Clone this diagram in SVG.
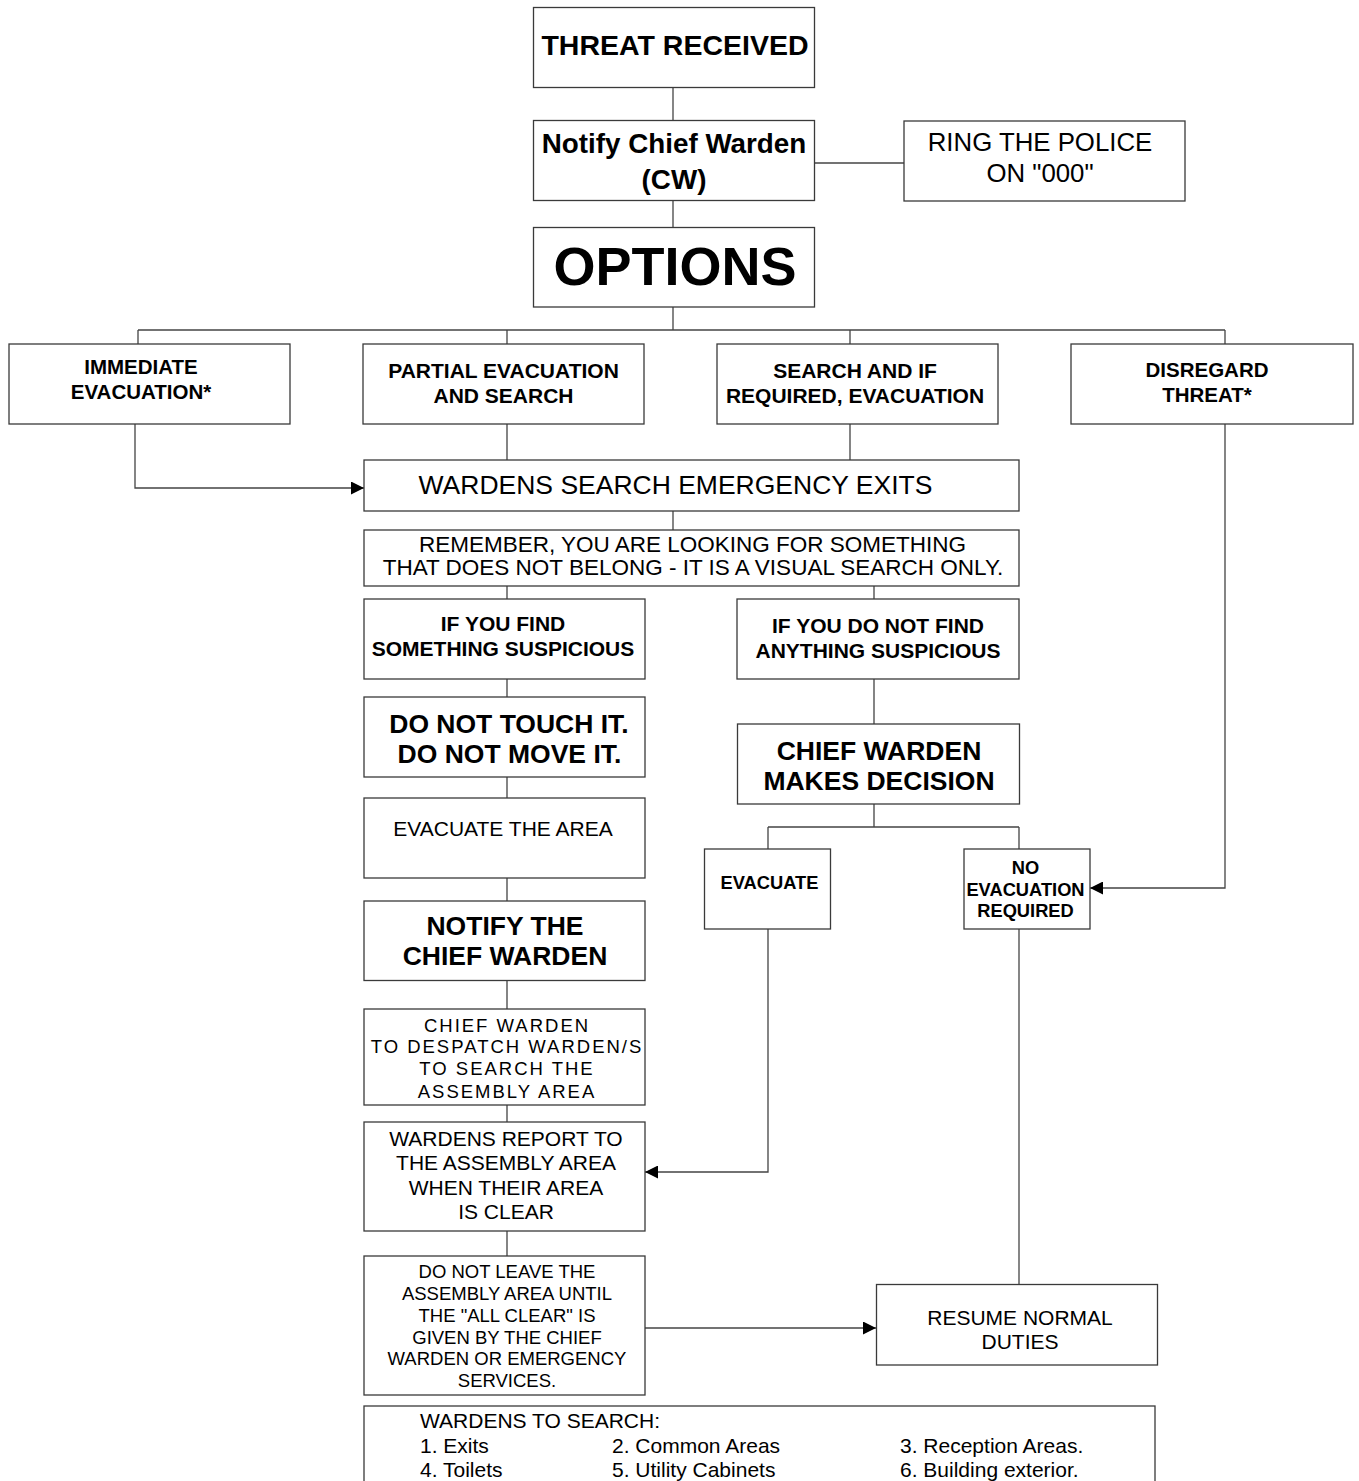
<svg xmlns="http://www.w3.org/2000/svg" width="1359" height="1481" viewBox="0 0 1359 1481">
<defs>
<style>
.box{fill:#fff;stroke:#3a3a3a;stroke-width:1.3}
.ln{fill:none;stroke:#444;stroke-width:1.3}
text{font-family:'Liberation Sans',Arial,sans-serif;fill:#000;text-anchor:middle}
.b{font-weight:bold}
.l{text-anchor:start}
</style>
<marker id="arr" markerUnits="userSpaceOnUse" markerWidth="13" markerHeight="13" refX="13" refY="6.5" orient="auto">
<path d="M0,0 L13,6.5 L0,13 z" fill="#000"/>
</marker>
</defs>
<rect width="1359" height="1481" fill="#fff"/>
<g id="connectors">
<path class="ln" d="M673,87 V121"/>
<path class="ln" d="M673,201 V228"/>
<path class="ln" d="M815,163 H904"/>
<path class="ln" d="M673,307 V330"/>
<path class="ln" d="M138,330 H1225"/>
<path class="ln" d="M138,330 V344 M507,330 V344 M850,330 V344 M1225,330 V344"/>
<path class="ln" d="M507,424 V460 M850,424 V460"/>
<path class="ln" d="M673,511 V530"/>
<path class="ln" d="M507,586 V599 M874,586 V599"/>
<path class="ln" d="M507,679 V697 M507,777 V798 M507,878 V901 M507,980 V1009 M507,1105 V1122 M507,1231 V1256"/>
<path class="ln" d="M874,679 V724 M874,804 V827 M768,827 H1019 M768,827 V849 M1019,827 V849"/>
<path class="ln" d="M1019,929 V1284"/>
<path class="ln" d="M135,424 V488 H364" marker-end="url(#arr)"/>
<path class="ln" d="M768,929 V1172 H645" marker-end="url(#arr)"/>
<path class="ln" d="M1225,424 V888 H1090" marker-end="url(#arr)"/>
<path class="ln" d="M645,1328 H876" marker-end="url(#arr)"/>
</g>
<g id="threat"><rect class="box" x="533.5" y="7.5" width="281" height="80"/><text class="b" x="675" y="55" font-size="28.5">THREAT RECEIVED</text></g>
<g id="notify"><rect class="box" x="533.5" y="120.5" width="281" height="80"/><text class="b" x="674" y="153" font-size="27.8">Notify Chief Warden</text><text class="b" x="674" y="189" font-size="27.8">(CW)</text></g>
<g id="ring"><rect class="box" x="904" y="121" width="281" height="80"/><text x="1040" y="151" font-size="25.8">RING THE POLICE</text><text x="1040" y="182" font-size="25.8">ON "000"</text></g>
<g id="options"><rect class="box" x="533.5" y="227.5" width="281" height="79.5"/><text class="b" x="675" y="285" font-size="54">OPTIONS</text></g>
<g id="immediate"><rect class="box" x="9" y="344" width="281" height="80"/><text class="b" x="141" y="373.5" font-size="20.5">IMMEDIATE</text><text class="b" x="141" y="398.5" font-size="20.5">EVACUATION*</text></g>
<g id="partial"><rect class="box" x="363" y="344" width="281" height="80"/><text class="b" x="503.5" y="377.5" font-size="21">PARTIAL EVACUATION</text><text class="b" x="503.5" y="402.5" font-size="21">AND SEARCH</text></g>
<g id="searchif"><rect class="box" x="717" y="344" width="281" height="80"/><text class="b" x="855" y="378" font-size="21">SEARCH AND IF</text><text class="b" x="855" y="403" font-size="21">REQUIRED, EVACUATION</text></g>
<g id="disregard"><rect class="box" x="1071" y="344" width="282" height="80"/><text class="b" x="1207" y="376.5" font-size="20.5">DISREGARD</text><text class="b" x="1207" y="401.5" font-size="20.5">THREAT*</text></g>
<g id="wsearch"><rect class="box" x="364" y="460" width="655" height="51"/><text x="675.5" y="494" font-size="26.5">WARDENS SEARCH EMERGENCY EXITS</text></g>
<g id="remember"><rect class="box" x="364" y="530" width="655" height="56"/><text x="692.5" y="552" font-size="22.5">REMEMBER, YOU ARE LOOKING FOR SOMETHING</text><text x="693" y="575" font-size="22.5">THAT DOES NOT BELONG - IT IS A VISUAL SEARCH ONLY.</text></g>
<g id="find"><rect class="box" x="364" y="599" width="281" height="80"/><text class="b" x="503" y="631" font-size="21">IF YOU FIND</text><text class="b" x="503" y="656" font-size="21">SOMETHING SUSPICIOUS</text></g>
<g id="donotfind"><rect class="box" x="737" y="599" width="282" height="80"/><text class="b" x="878" y="633" font-size="21">IF YOU DO NOT FIND</text><text class="b" x="878" y="658" font-size="21">ANYTHING SUSPICIOUS</text></g>
<g id="donottouch"><rect class="box" x="364" y="697" width="281" height="80"/><text class="b" x="509" y="733" font-size="26.5">DO NOT TOUCH IT.</text><text class="b" x="509.5" y="763" font-size="26.5">DO NOT MOVE IT.</text></g>
<g id="evacarea"><rect class="box" x="364" y="798" width="281" height="80"/><text x="503" y="836" font-size="21">EVACUATE THE AREA</text></g>
<g id="decision"><rect class="box" x="737.5" y="724" width="282" height="80"/><text class="b" x="879" y="760" font-size="26.5">CHIEF WARDEN</text><text class="b" x="879" y="790" font-size="26.5">MAKES DECISION</text></g>
<g id="evacuate"><rect class="box" x="704.5" y="849" width="126" height="80"/><text class="b" x="769.5" y="889" font-size="18.3">EVACUATE</text></g>
<g id="noevac"><rect class="box" x="964" y="849" width="126" height="80"/><text class="b" x="1025.5" y="874" font-size="18.3">NO</text><text class="b" x="1025.5" y="896" font-size="18.3">EVACUATION</text><text class="b" x="1025.5" y="917" font-size="18.3">REQUIRED</text></g>
<g id="notifycw"><rect class="box" x="364" y="901" width="281" height="79.5"/><text class="b" x="505" y="935" font-size="26.5">NOTIFY THE</text><text class="b" x="505" y="965" font-size="26.5">CHIEF WARDEN</text></g>
<g id="despatch"><rect class="box" x="364" y="1009" width="281" height="96"/><g font-size="18.5" letter-spacing="2"><text x="507" y="1032">CHIEF WARDEN</text><text x="507" y="1053">TO DESPATCH WARDEN/S</text><text x="507" y="1075">TO SEARCH THE</text><text x="507" y="1098">ASSEMBLY AREA</text></g></g>
<g id="report"><rect class="box" x="364" y="1122" width="281" height="109"/><g font-size="21"><text x="506" y="1146">WARDENS REPORT TO</text><text x="506" y="1170">THE ASSEMBLY AREA</text><text x="506" y="1195">WHEN THEIR AREA</text><text x="506" y="1219">IS CLEAR</text></g></g>
<g id="donotleave"><rect class="box" x="364" y="1256" width="281" height="139"/><g font-size="18.5"><text x="507" y="1278">DO NOT LEAVE THE</text><text x="507" y="1300">ASSEMBLY AREA UNTIL</text><text x="507" y="1322">THE "ALL CLEAR" IS</text><text x="507" y="1344">GIVEN BY THE CHIEF</text><text x="507" y="1365">WARDEN OR EMERGENCY</text><text x="507" y="1387">SERVICES.</text></g></g>
<g id="resume"><rect class="box" x="876.5" y="1284.5" width="281" height="80.5"/><text x="1020" y="1324.5" font-size="21">RESUME NORMAL</text><text x="1020" y="1348.5" font-size="21">DUTIES</text></g>
<g id="wardenstosearch"><rect class="box" x="364" y="1406" width="791" height="90"/><g font-size="21"><text class="l" x="420" y="1428">WARDENS TO SEARCH:</text><text class="l" x="420" y="1453">1. Exits</text><text class="l" x="612" y="1453">2. Common Areas</text><text class="l" x="900" y="1453">3. Reception Areas.</text><text class="l" x="420" y="1477">4. Toilets</text><text class="l" x="612" y="1477">5. Utility Cabinets</text><text class="l" x="900" y="1477">6. Building exterior.</text></g></g>
</svg>
